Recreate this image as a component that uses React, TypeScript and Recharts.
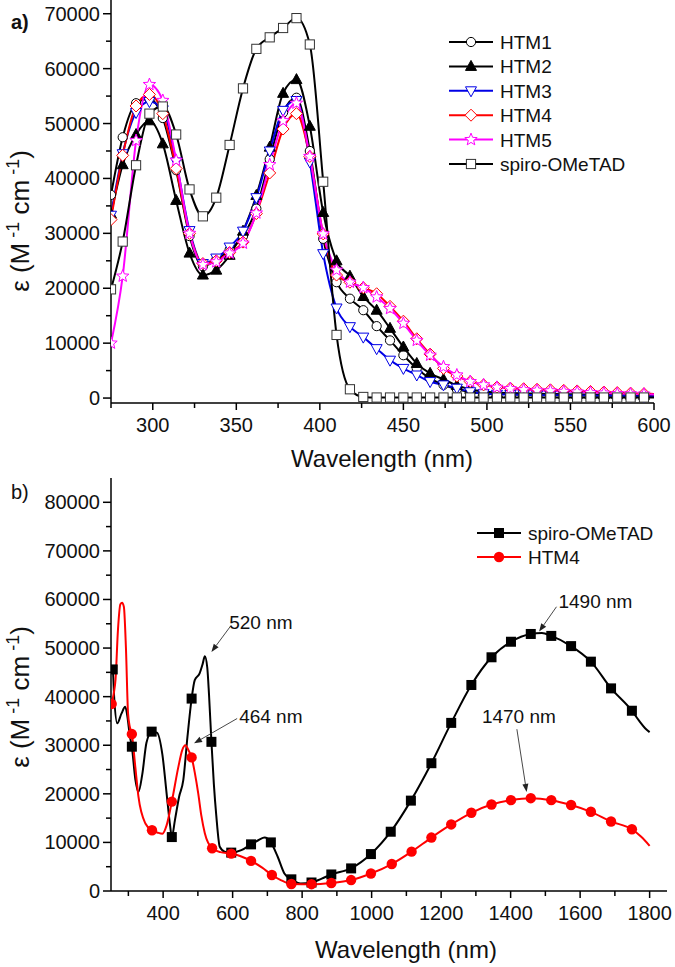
import React from 'react';
import { LineChart, Line, XAxis, YAxis, Legend, ReferenceLine } from 'recharts';

const FONT = '"Liberation Sans", Arial, Helvetica, sans-serif';

// ---------------- Panel a: absorption spectra ----------------
const wavelengthA = [275, 282, 290, 298, 306, 314, 322, 330, 338, 346, 354, 362, 370, 378, 386, 394, 402, 410, 418, 426, 434, 442, 450, 458, 466, 474, 482, 490, 498, 506, 514, 522, 530, 538, 546, 554, 562, 570, 578, 586, 594, 600];
const htm1 = [37000, 47500, 53700, 54500, 51000, 41500, 29500, 24000, 25200, 27000, 29500, 34500, 43500, 52000, 54700, 45000, 29000, 21100, 18100, 16000, 13100, 10500, 7800, 5400, 3600, 2400, 1600, 1100, 900, 800, 700, 650, 600, 600, 550, 500, 500, 450, 450, 400, 400, 400];
const htm2 = [33500, 42500, 48000, 50500, 46300, 36000, 26400, 22400, 23300, 26000, 30400, 36900, 45700, 55500, 58000, 49500, 33800, 25000, 22200, 18500, 16000, 12700, 9300, 6300, 4500, 3400, 2300, 1600, 1200, 1000, 900, 850, 800, 750, 700, 700, 650, 600, 600, 550, 500, 500];
const htm3 = [33300, 44500, 52000, 54000, 52500, 43000, 30500, 24500, 25500, 27500, 30400, 36500, 45000, 52400, 54200, 43000, 26300, 16400, 13000, 11100, 9000, 6900, 5400, 4200, 3000, 2400, 1800, 1150, 800, 700, 650, 600, 550, 500, 500, 450, 450, 400, 400, 350, 300, 300];
const htm4 = [32500, 44200, 53200, 55300, 51800, 41800, 30000, 24500, 25000, 26500, 28400, 33600, 41000, 49000, 51800, 44000, 29900, 22400, 21100, 20100, 19000, 16700, 14000, 10800, 8000, 5400, 4000, 3000, 2400, 2000, 1800, 1700, 1600, 1500, 1400, 1300, 1200, 1100, 1000, 900, 800, 750];
const htm5 = [10000, 22200, 46900, 57100, 54200, 43300, 30000, 24300, 24800, 26400, 28200, 33700, 42500, 50500, 53700, 44000, 29900, 23300, 21100, 20100, 18400, 16300, 13600, 10500, 7800, 5700, 4200, 3000, 2400, 1950, 1700, 1500, 1400, 1300, 1200, 1100, 1000, 900, 800, 750, 700, 650];
const spiroA = [19800, 28500, 42400, 51800, 53100, 48000, 38000, 33100, 36500, 46100, 56400, 63600, 65700, 67400, 69200, 64400, 39400, 11500, 1600, 200, 100, 100, 100, 100, 100, 100, 100, 100, 100, 100, 100, 100, 100, 100, 100, 100, 100, 100, 100, 100, 100, 100];
const unmarkedA = [600];

const xTicksA = [275, 300, 325, 350, 375, 400, 425, 450, 475, 500, 525, 550, 575, 600];
const xLabelsA = [300, 350, 400, 450, 500, 550, 600];
const yTicksA = [0, 5000, 10000, 15000, 20000, 25000, 30000, 35000, 40000, 45000, 50000, 55000, 60000, 65000, 70000];
const yLabelsA = [0, 10000, 20000, 30000, 40000, 50000, 60000, 70000];

// ---------------- Panel b: oxidized species ----------------
const spiroNirX = [250, 255, 259, 268, 280, 291, 298, 304, 310, 320, 329, 340, 352, 367, 382, 398, 410, 420, 425, 434, 446, 458, 470, 482, 491, 505, 514, 520, 527, 532, 539, 546, 553, 563, 577, 596, 625, 653, 675, 692, 710, 730, 749, 769, 796, 827, 855, 884, 941, 998, 1055, 1113, 1172, 1229, 1287, 1345, 1401, 1458, 1490, 1517, 1574, 1631, 1689, 1749, 1770, 1787, 1800];
const spiroNirY = [46000, 45600, 40000, 34500, 36500, 37900, 35500, 32000, 29700, 23000, 20400, 24000, 30500, 32800, 32600, 28000, 20100, 13500, 11100, 14600, 19400, 22800, 31700, 39600, 43400, 44800, 46800, 48300, 46000, 40500, 30700, 22000, 15500, 9100, 8100, 7900, 8400, 9600, 10500, 11000, 10000, 7000, 3600, 2400, 1550, 1750, 2500, 3400, 4650, 7600, 12200, 18600, 26300, 34600, 42400, 48100, 51300, 52900, 53100, 52500, 50400, 47200, 41700, 37100, 35000, 33500, 32700];
const spiroNirMarked = [255, 310, 367, 425, 482, 539, 596, 653, 710, 769, 827, 884, 941, 998, 1055, 1113, 1172, 1229, 1287, 1345, 1401, 1458, 1517, 1574, 1631, 1689, 1749];

const htm4NirX = [250, 252, 258, 263, 270, 277, 282, 287, 293, 299, 304, 310, 320, 329, 349, 368, 385, 398, 410, 425, 444, 455, 464, 474, 482, 492, 501, 510, 520, 541, 565, 596, 625, 653, 685, 713, 740, 769, 827, 884, 941, 998, 1058, 1115, 1172, 1229, 1287, 1345, 1401, 1458, 1517, 1574, 1631, 1689, 1749, 1775, 1800];
const htm4NirY = [37500, 38500, 40700, 43500, 53700, 59000, 59300, 58500, 50000, 36600, 33800, 32300, 25500, 19400, 13900, 12500, 12000, 11800, 13500, 18400, 25600, 29000, 30000, 28800, 27500, 24000, 20100, 15500, 11900, 8800, 8000, 7700, 7100, 6200, 4800, 3300, 2200, 1450, 1400, 1650, 2250, 3600, 5550, 8100, 11000, 13700, 16100, 17800, 18700, 19100, 18700, 17700, 16300, 14300, 12700, 11200, 9300];
const htm4NirMarked = [252, 310, 368, 425, 482, 541, 596, 653, 713, 769, 827, 884, 941, 998, 1058, 1115, 1172, 1229, 1287, 1345, 1401, 1458, 1517, 1574, 1631, 1689, 1749];

const xTicksB = [300, 400, 500, 600, 700, 800, 900, 1000, 1100, 1200, 1300, 1400, 1500, 1600, 1700, 1800];
const xLabelsB = [400, 600, 800, 1000, 1200, 1400, 1600, 1800];
const yTicksB = [0, 5000, 10000, 15000, 20000, 25000, 30000, 35000, 40000, 45000, 50000, 55000, 60000, 65000, 70000, 75000, 80000];
const yLabelsB = [0, 10000, 20000, 30000, 40000, 50000, 60000, 70000, 80000];

const peakLabels = ['520 nm', '464 nm', '1490 nm', '1470 nm'];
const peakArrowFrom = [[596, 54700], [613, 35500], [1532, 58500], [1418, 33300]];
const peakArrowTo = [[539, 49200], [489, 30400], [1482, 53400], [1446, 20400]];

// ---------------- tables built from the arrays ----------------
const rowsA = wavelengthA.map((x, i) => ({
  x,
  mk: !unmarkedA.includes(x),
  htm1: htm1[i],
  htm2: htm2[i],
  htm3: htm3[i],
  htm4: htm4[i],
  htm5: htm5[i],
  spiro: spiroA[i],
}));
const spiroNirRows = spiroNirX.map((x, i) => ({ x, y: spiroNirY[i], mk: spiroNirMarked.includes(x) }));
const htm4NirRows = htm4NirX.map((x, i) => ({ x, y: htm4NirY[i], mk: htm4NirMarked.includes(x) }));

const seriesA = [
  { key: 'htm1', name: 'HTM1', color: '#000000', marker: 'circle' },
  { key: 'htm2', name: 'HTM2', color: '#000000', marker: 'triUp' },
  { key: 'htm3', name: 'HTM3', color: '#0000e6', marker: 'triDown' },
  { key: 'htm4', name: 'HTM4', color: '#ff0000', marker: 'diamond' },
  { key: 'htm5', name: 'HTM5', color: '#ff00ff', marker: 'star' },
  { key: 'spiro', name: 'spiro-OMeTAD', color: '#000000', marker: 'square' },
];
const seriesB = [
  { key: 'spiro', name: 'spiro-OMeTAD', color: '#000000', marker: 'sqFilled' },
  { key: 'htm4', name: 'HTM4', color: '#ff0000', marker: 'dotFilled' },
];

// ---------------- drawing helpers ----------------
function starPoints(cx: number, cy: number, R: number, r: number) {
  const pts: string[] = [];
  for (let i = 0; i < 10; i++) {
    const a = -Math.PI / 2 + (i * Math.PI) / 5;
    const rad = i % 2 === 0 ? R : r;
    pts.push(`${cx + rad * Math.cos(a)},${cy + rad * Math.sin(a)}`);
  }
  return pts.join(' ');
}

function Marker({ kind, cx, cy, color }: { kind: string; cx: number; cy: number; color: string }) {
  switch (kind) {
    case 'circle':
      return <circle cx={cx} cy={cy} r={4.6} fill="#fff" stroke={color} strokeWidth={1} />;
    case 'triUp':
      return <polygon points={`${cx},${cy - 6} ${cx + 5.5},${cy + 4} ${cx - 5.5},${cy + 4}`} fill={color} stroke={color} strokeWidth={1} />;
    case 'triDown':
      return <polygon points={`${cx - 5.5},${cy - 4} ${cx + 5.5},${cy - 4} ${cx},${cy + 6}`} fill="#fff" stroke={color} strokeWidth={1} />;
    case 'diamond':
      return <polygon points={`${cx},${cy - 6} ${cx + 6},${cy} ${cx},${cy + 6} ${cx - 6},${cy}`} fill="#fff" stroke={color} strokeWidth={1} />;
    case 'star':
      return <polygon points={starPoints(cx, cy, 6.5, 2.8)} fill="#fff" stroke={color} strokeWidth={1} />;
    case 'square':
      return <rect x={cx - 4.6} y={cy - 4.6} width={9.2} height={9.2} fill="#fff" stroke="#333" strokeWidth={1} />;
    case 'sqFilled':
      return <rect x={cx - 5} y={cy - 5} width={10} height={10} fill={color} />;
    case 'dotFilled':
      return <circle cx={cx} cy={cy} r={5.2} fill={color} />;
    default:
      return null;
  }
}

const makeDot = (kind: string, color: string) => (props: any) => {
  const { cx, cy, payload, index } = props;
  if (!payload || payload.mk === false || cx == null || cy == null || isNaN(cx) || isNaN(cy)) {
    return <g key={`d-${kind}-${index}`} />;
  }
  return (
    <g key={`d-${kind}-${index}`}>
      <Marker kind={kind} cx={cx} cy={cy} color={color} />
    </g>
  );
};

const makeXTick = (labels: number[]) => (props: any) => {
  const { x, y, payload } = props;
  const v = payload.value;
  const major = labels.includes(v);
  return (
    <g>
      <line x1={x} y1={y} x2={x} y2={y + (major ? 7 : 5)} stroke="#000" strokeWidth={1.5} />
      {major && (
        <text x={x} y={y + 29} textAnchor="middle" fontSize={20} fontFamily={FONT} fill="#111">
          {v}
        </text>
      )}
    </g>
  );
};

const makeYTick = (labels: number[]) => (props: any) => {
  const { x, y, payload } = props;
  const v = payload.value;
  const major = labels.includes(v);
  return (
    <g>
      <line x1={x - (major ? 8 : 5)} y1={y} x2={x} y2={y} stroke="#000" strokeWidth={1.5} />
      {major && (
        <text x={x - 11} y={y + 7} textAnchor="end" fontSize={20} fontFamily={FONT} fill="#111">
          {v}
        </text>
      )}
    </g>
  );
};

const yTitle = (cy: number, panel: string, panelY: number, bold: boolean) => () => (
  <g>
    <text
      x={29}
      y={cy}
      transform={`rotate(-90, 29, ${cy})`}
      textAnchor="middle"
      fontSize={26}
      fontFamily={FONT}
      fill="#111"
    >
      ε (M<tspan dy={-10} fontSize={18}> -1</tspan>
      <tspan dy={10}> cm</tspan>
      <tspan dy={-10} fontSize={18}> -1</tspan>
      <tspan dy={10}>)</tspan>
    </text>
    <text x={11} y={panelY} fontSize={20} fontWeight={bold ? 'bold' : 'normal'} fontFamily={FONT} fill="#111">
      {panel}
    </text>
  </g>
);

const xTitle = (cx: number, y: number) => () => (
  <text x={cx} y={y} textAnchor="middle" fontSize={24} fontFamily={FONT} fill="#111">
    Wavelength (nm)
  </text>
);

const makeLegend = (series: typeof seriesA, rowH: number) => () => (
  <svg width={230} height={series.length * rowH + 10} style={{ overflow: 'visible' }}>
    {series.map((s, i) => {
      const y = 12 + i * rowH;
      return (
        <g key={s.key}>
          <line x1={0} x2={44} y1={y} y2={y} stroke={s.color} strokeWidth={2} />
          <Marker kind={s.marker} cx={22} cy={y} color={s.color} />
          <text x={51} y={y + 7} fontSize={19} fontFamily={FONT} fill="#111">
            {s.name}
          </text>
        </g>
      );
    })}
  </svg>
);

const annoText = [
  { dx: -2, dy: 4, anchor: 'start' },
  { dx: 2, dy: 4, anchor: 'start' },
  { dx: 2, dy: 1, anchor: 'start' },
  { dx: 2, dy: -6, anchor: 'middle' },
];

const arrowShape = (i: number) => (p: any) => {
  const { x1, y1, x2, y2 } = p;
  if ([x1, y1, x2, y2].some((v) => v == null || isNaN(v))) return <g />;
  const ang = Math.atan2(y2 - y1, x2 - x1);
  const L = 8;
  const W = 3;
  const bx = x2 - L * Math.cos(ang);
  const by = y2 - L * Math.sin(ang);
  const px = -Math.sin(ang) * W;
  const py = Math.cos(ang) * W;
  const t = annoText[i];
  return (
    <g>
      <line x1={x1} y1={y1} x2={bx} y2={by} stroke="#333" strokeWidth={0.9} />
      <polygon points={`${x2},${y2} ${bx + px},${by + py} ${bx - px},${by - py}`} fill="#222" />
      <text x={x1 + t.dx} y={y1 + t.dy} textAnchor={t.anchor as any} fontSize={19} fontFamily={FONT} fill="#111">
        {peakLabels[i]}
      </text>
    </g>
  );
};

const axisLineStyle = { stroke: '#000', strokeWidth: 1.5 };

export default function App() {
  return (
    <div style={{ position: 'absolute', left: 0, top: 0, width: 675, height: 967, background: '#fff', fontFamily: FONT }}>
      <div style={{ position: 'absolute', left: 0, top: 0 }}>
        <LineChart width={675} height={475} data={rowsA} margin={{ top: 0, right: 21, bottom: 0, left: 0 }}>
          <XAxis
            type="number"
            dataKey="x"
            domain={[275, 600]}
            allowDataOverflow
            ticks={xTicksA}
            interval={0}
            tickSize={0}
            tickMargin={0}
            tickLine={false}
            tick={makeXTick(xLabelsA)}
            axisLine={axisLineStyle}
            height={72}
            label={xTitle(382, 467)}
          />
          <YAxis
            type="number"
            domain={[-900, 72500]}
            allowDataOverflow
            ticks={yTicksA}
            interval={0}
            tickSize={0}
            tickMargin={0}
            tickLine={false}
            tick={makeYTick(yLabelsA)}
            axisLine={axisLineStyle}
            width={111}
            label={yTitle(221, 'a)', 29, true)}
          />
          {seriesA.map((s) => (
            <Line
              key={s.key}
              type="monotone"
              dataKey={s.key}
              name={s.name}
              stroke={s.color}
              strokeWidth={2}
              dot={makeDot(s.marker, s.color)}
              activeDot={false}
              isAnimationActive={false}
            />
          ))}
          <Legend
            layout="vertical"
            align="center"
            verticalAlign="middle"
            content={makeLegend(seriesA, 24.4)}
            wrapperStyle={{ left: 449, top: 30, width: 230, height: 160 }}
          />
        </LineChart>
      </div>
      <div style={{ position: 'absolute', left: 0, top: 475 }}>
        <LineChart width={675} height={492} margin={{ top: 3, right: 8, bottom: 0, left: 0 }}>
          <XAxis
            type="number"
            dataKey="x"
            domain={[250, 1850]}
            allowDataOverflow
            ticks={xTicksB}
            interval={0}
            tickSize={0}
            tickMargin={0}
            tickLine={false}
            tick={makeXTick(xLabelsB)}
            axisLine={axisLineStyle}
            height={76}
            label={xTitle(406, 483)}
          />
          <YAxis
            type="number"
            domain={[0, 85000]}
            ticks={yTicksB}
            interval={0}
            tickSize={0}
            tickMargin={0}
            tickLine={false}
            tick={makeYTick(yLabelsB)}
            axisLine={axisLineStyle}
            width={111}
            label={yTitle(222, 'b)', 24, false)}
          />
          <Line
            data={spiroNirRows}
            type="monotone"
            dataKey="y"
            name="spiro-OMeTAD"
            stroke="#000"
            strokeWidth={2}
            dot={makeDot('sqFilled', '#000')}
            activeDot={false}
            isAnimationActive={false}
          />
          <Line
            data={htm4NirRows}
            type="monotone"
            dataKey="y"
            name="HTM4"
            stroke="#ff0000"
            strokeWidth={2}
            dot={makeDot('dotFilled', '#ff0000')}
            activeDot={false}
            isAnimationActive={false}
          />
          {peakLabels.map((lab, i) => (
            <ReferenceLine
              key={lab}
              segment={[
                { x: peakArrowFrom[i][0], y: peakArrowFrom[i][1] },
                { x: peakArrowTo[i][0], y: peakArrowTo[i][1] },
              ]}
              ifOverflow="visible"
              shape={arrowShape(i)}
            />
          ))}
          <Legend
            layout="vertical"
            align="center"
            verticalAlign="middle"
            content={makeLegend(seriesB as any, 24)}
            wrapperStyle={{ left: 477, top: 46, width: 230, height: 60 }}
          />
        </LineChart>
      </div>
    </div>
  );
}
